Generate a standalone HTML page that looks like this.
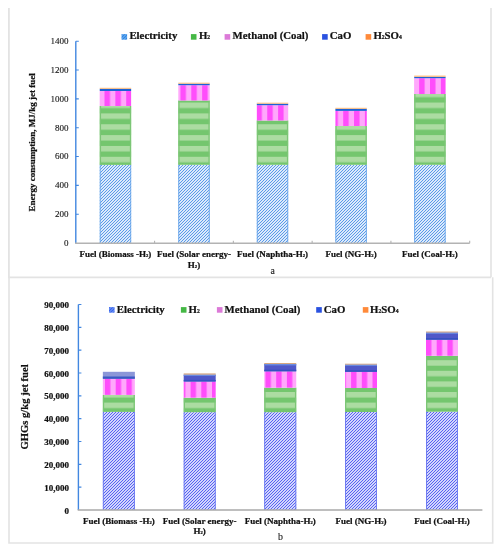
<!DOCTYPE html>
<html><head><meta charset="utf-8"><title>Energy consumption and GHG emissions</title>
<style>
html,body{margin:0;padding:0;background:#fff;}
body{width:501px;height:550px;overflow:hidden;}
svg{display:block;will-change:transform;}
text{font-family:"Liberation Serif", serif;fill:#111;}
.b{font-weight:bold;stroke:#111;stroke-width:0.22px;}
</style></head><body>
<svg width="501" height="550" viewBox="0 0 501 550">
<defs>
<pattern id="hT" patternUnits="userSpaceOnUse" width="3" height="3"><rect width="3" height="3" fill="#dceafb"/><path d="M-1,1 L1,-1 M0,3 L3,0 M2,4 L4,2" stroke="#5a9ae8" stroke-width="1.0" stroke-linecap="square"/></pattern><pattern id="hB" patternUnits="userSpaceOnUse" width="3" height="3"><rect width="3" height="3" fill="#d2d6fc"/><path d="M-1,1 L1,-1 M0,3 L3,0 M2,4 L4,2" stroke="#5862f2" stroke-width="1.0" stroke-linecap="square"/></pattern><pattern id="gT" patternUnits="userSpaceOnUse" width="20" height="10.85" y="4.90"><rect width="20" height="10.85" fill="#74c66e"/><rect y="0" width="20" height="5.5" fill="#acdca2"/></pattern><pattern id="gB" patternUnits="userSpaceOnUse" width="20" height="10.6" y="10.40"><rect width="20" height="10.6" fill="#74c66e"/><rect y="0" width="20" height="5.5" fill="#acdca2"/></pattern><pattern id="pT" patternUnits="userSpaceOnUse" width="10.85" height="20" x="6.85"><rect width="10.85" height="20" fill="#ffa8fb"/><rect x="0" width="5.5" height="20" fill="#ff4dfb"/></pattern><pattern id="pB" patternUnits="userSpaceOnUse" width="10.7" height="20" x="8.70"><rect width="10.7" height="20" fill="#ffa8fb"/><rect x="0" width="5.4" height="20" fill="#ff4dfb"/></pattern><pattern id="lgE1" patternUnits="userSpaceOnUse" width="3" height="3"><rect width="3" height="3" fill="#7cb8f0"/><path d="M-1,1 L1,-1 M0,3 L3,0 M2,4 L4,2" stroke="#2f86e4" stroke-width="1.3"/></pattern><pattern id="lgE2" patternUnits="userSpaceOnUse" width="3" height="3"><rect width="3" height="3" fill="#78a8f4"/><path d="M-1,1 L1,-1 M0,3 L3,0 M2,4 L4,2" stroke="#3c62ee" stroke-width="1.3"/></pattern></defs>
<g fill="none" stroke="#e3e3e3"><path d="M8.9,8 V277.3 H491" stroke-width="1.8"/><path d="M491,8 V277.3" stroke-width="1.6"/><path d="M9,277.3 V543 H492.7 V277.3" stroke-width="1.6"/></g><rect x="99.75" y="164.90" width="31.40" height="78.20" fill="url(#hT)"/><rect x="99.75" y="106.00" width="31.40" height="58.90" fill="url(#gT)"/><rect x="99.75" y="106.00" width="1.30" height="58.90" fill="#7cc676"/><rect x="129.85" y="106.00" width="1.30" height="58.90" fill="#7cc676"/><rect x="99.75" y="164.90" width="0.90" height="78.20" fill="#6aa6ea"/><rect x="130.25" y="164.90" width="0.90" height="78.20" fill="#6aa6ea"/><rect x="99.75" y="91.00" width="31.40" height="15.00" fill="url(#pT)"/><rect x="99.75" y="88.80" width="31.40" height="2.20" fill="#1c62d6"/><rect x="99.75" y="87.80" width="31.40" height="1.00" fill="#ffbb77"/><rect x="178.30" y="164.80" width="31.40" height="78.30" fill="url(#hT)"/><rect x="178.30" y="100.50" width="31.40" height="64.30" fill="url(#gT)"/><rect x="178.30" y="100.50" width="1.30" height="64.30" fill="#7cc676"/><rect x="208.40" y="100.50" width="1.30" height="64.30" fill="#7cc676"/><rect x="178.30" y="164.80" width="0.90" height="78.30" fill="#6aa6ea"/><rect x="208.80" y="164.80" width="0.90" height="78.30" fill="#6aa6ea"/><rect x="178.30" y="85.20" width="31.40" height="15.30" fill="url(#pT)"/><rect x="178.30" y="83.70" width="31.40" height="1.50" fill="#1c62d6"/><rect x="178.30" y="82.70" width="31.40" height="1.00" fill="#ffbb77"/><rect x="256.80" y="164.80" width="31.40" height="78.30" fill="url(#hT)"/><rect x="256.80" y="120.50" width="31.40" height="44.30" fill="url(#gT)"/><rect x="256.80" y="120.50" width="1.30" height="44.30" fill="#7cc676"/><rect x="286.90" y="120.50" width="1.30" height="44.30" fill="#7cc676"/><rect x="256.80" y="164.80" width="0.90" height="78.30" fill="#6aa6ea"/><rect x="287.30" y="164.80" width="0.90" height="78.30" fill="#6aa6ea"/><rect x="256.80" y="105.20" width="31.40" height="15.30" fill="url(#pT)"/><rect x="256.80" y="103.70" width="31.40" height="1.50" fill="#1c62d6"/><rect x="256.80" y="102.70" width="31.40" height="1.00" fill="#ffbb77"/><rect x="335.40" y="164.80" width="31.40" height="78.30" fill="url(#hT)"/><rect x="335.40" y="126.00" width="31.40" height="38.80" fill="url(#gT)"/><rect x="335.40" y="126.00" width="1.30" height="38.80" fill="#7cc676"/><rect x="365.50" y="126.00" width="1.30" height="38.80" fill="#7cc676"/><rect x="335.40" y="164.80" width="0.90" height="78.30" fill="#6aa6ea"/><rect x="365.90" y="164.80" width="0.90" height="78.30" fill="#6aa6ea"/><rect x="335.40" y="110.90" width="31.40" height="15.10" fill="url(#pT)"/><rect x="335.40" y="108.80" width="31.40" height="2.10" fill="#1c62d6"/><rect x="335.40" y="107.80" width="31.40" height="1.00" fill="#ffbb77"/><rect x="414.20" y="164.80" width="31.40" height="78.30" fill="url(#hT)"/><rect x="414.20" y="94.00" width="31.40" height="70.80" fill="url(#gT)"/><rect x="414.20" y="94.00" width="1.30" height="70.80" fill="#7cc676"/><rect x="444.30" y="94.00" width="1.30" height="70.80" fill="#7cc676"/><rect x="414.20" y="164.80" width="0.90" height="78.30" fill="#6aa6ea"/><rect x="444.70" y="164.80" width="0.90" height="78.30" fill="#6aa6ea"/><rect x="414.20" y="78.20" width="31.40" height="15.80" fill="url(#pT)"/><rect x="414.20" y="76.80" width="31.40" height="1.40" fill="#1c62d6"/><rect x="414.20" y="75.60" width="31.40" height="1.20" fill="#ffbb77"/><path d="M75.8,41.2 V243.3" stroke="#4287e0" stroke-width="1.4" fill="none"/><path d="M75.8,41.20 h3 M75.8,70.04 h3 M75.8,98.89 h3 M75.8,127.73 h3 M75.8,156.57 h3 M75.8,185.41 h3 M75.8,214.26 h3 " stroke="#4287e0" stroke-width="1.1" fill="none"/><path d="M75.1,243.3 H469.7" stroke="#b3b3b3" stroke-width="1.4" fill="none"/><path d="M154.58,243.3 v-2.6 M233.36,243.3 v-2.6 M312.14,243.3 v-2.6 M390.92,243.3 v-2.6 M469.70,243.3 v-2.6 " stroke="#b3b3b3" stroke-width="1.1" fill="none"/><text x="68.5" y="44.00" font-size="9.05" text-anchor="end" stroke="#222" stroke-width="0.12">1400</text><text x="68.5" y="72.84" font-size="9.05" text-anchor="end" stroke="#222" stroke-width="0.12">1200</text><text x="68.5" y="101.69" font-size="9.05" text-anchor="end" stroke="#222" stroke-width="0.12">1000</text><text x="68.5" y="130.53" font-size="9.05" text-anchor="end" stroke="#222" stroke-width="0.12">800</text><text x="68.5" y="159.37" font-size="9.05" text-anchor="end" stroke="#222" stroke-width="0.12">600</text><text x="68.5" y="188.21" font-size="9.05" text-anchor="end" stroke="#222" stroke-width="0.12">400</text><text x="68.5" y="217.06" font-size="9.05" text-anchor="end" stroke="#222" stroke-width="0.12">200</text><text x="68.5" y="245.90" font-size="9.05" text-anchor="end" stroke="#222" stroke-width="0.12">0</text><text transform="translate(35.3,142.3) rotate(-90)" font-size="9" class="b" text-anchor="middle">Energy consumption, MJ/kg jet fuel</text><rect x="121.50" y="34.10" width="5.60" height="5.60" fill="url(#lgE1)"/><text x="129.4" y="39.2" font-size="10.8" class="b">Electricity</text><rect x="190.90" y="34.10" width="5.60" height="5.60" fill="#45b845"/><text x="198.9" y="39.2" font-size="10.8" class="b">H<tspan font-size="0.52em" baseline-shift="-0.4">2</tspan></text><rect x="224.60" y="34.10" width="5.60" height="5.60" fill="#dc7ad8"/><text x="232.6" y="39.2" font-size="10.8" class="b">Methanol (Coal)</text><rect x="322.10" y="34.10" width="5.60" height="5.60" fill="#2a52e0"/><text x="329.8" y="39.2" font-size="10.8" class="b">CaO</text><rect x="365.60" y="34.10" width="5.60" height="5.60" fill="#ff8a3a"/><text x="373.4" y="39.2" font-size="10.8" class="b">H<tspan font-size="0.52em" baseline-shift="-0.4">2</tspan>SO<tspan font-size="0.52em" baseline-shift="-0.4">4</tspan></text><text x="115.45" y="257.3" font-size="9" class="b" text-anchor="middle">Fuel (Biomass -H<tspan font-size="0.52em" baseline-shift="-0.4">2</tspan>)</text><text x="194.00" y="257.3" font-size="9" class="b" text-anchor="middle">Fuel (Solar energy-</text><text x="272.50" y="257.3" font-size="9" class="b" text-anchor="middle">Fuel (Naphtha-H<tspan font-size="0.52em" baseline-shift="-0.4">2</tspan>)</text><text x="351.10" y="257.3" font-size="9" class="b" text-anchor="middle">Fuel (NG-H<tspan font-size="0.52em" baseline-shift="-0.4">2</tspan>)</text><text x="429.90" y="257.3" font-size="9" class="b" text-anchor="middle">Fuel (Coal-H<tspan font-size="0.52em" baseline-shift="-0.4">2</tspan>)</text><text x="194.00" y="267.6" font-size="9" class="b" text-anchor="middle">H<tspan font-size="0.52em" baseline-shift="-0.4">2</tspan>)</text><text x="272.7" y="274.0" font-size="9.8" text-anchor="middle" stroke="#222" stroke-width="0.1">a</text><rect x="102.85" y="411.90" width="32.00" height="98.10" fill="url(#hB)"/><rect x="102.85" y="394.90" width="32.00" height="17.00" fill="url(#gB)"/><rect x="102.85" y="394.90" width="1.30" height="17.00" fill="#7cc676"/><rect x="133.55" y="394.90" width="1.30" height="17.00" fill="#7cc676"/><rect x="102.85" y="411.90" width="0.90" height="98.10" fill="#6a78f0"/><rect x="133.95" y="411.90" width="0.90" height="98.10" fill="#6a78f0"/><rect x="102.85" y="378.80" width="32.00" height="16.10" fill="url(#pB)"/><rect x="102.85" y="371.80" width="32.00" height="7.00" fill="#8b96d8"/><rect x="102.85" y="376.50" width="32.00" height="2.30" fill="#3b58c4"/><rect x="183.70" y="412.20" width="32.00" height="97.80" fill="url(#hB)"/><rect x="183.70" y="397.70" width="32.00" height="14.50" fill="url(#gB)"/><rect x="183.70" y="397.70" width="1.30" height="14.50" fill="#7cc676"/><rect x="214.40" y="397.70" width="1.30" height="14.50" fill="#7cc676"/><rect x="183.70" y="412.20" width="0.90" height="97.80" fill="#6a78f0"/><rect x="214.80" y="412.20" width="0.90" height="97.80" fill="#6a78f0"/><rect x="183.70" y="381.50" width="32.00" height="16.20" fill="url(#pB)"/><rect x="183.70" y="374.60" width="32.00" height="6.90" fill="#5058c8"/><rect x="183.70" y="374.60" width="32.00" height="1.40" fill="#6a8ae0"/><rect x="183.70" y="379.90" width="32.00" height="1.60" fill="#3552c0"/><rect x="183.70" y="373.40" width="32.00" height="1.20" fill="#d4a680"/><rect x="264.25" y="412.20" width="32.00" height="97.80" fill="url(#hB)"/><rect x="264.25" y="387.70" width="32.00" height="24.50" fill="url(#gB)"/><rect x="264.25" y="387.70" width="1.30" height="24.50" fill="#7cc676"/><rect x="294.95" y="387.70" width="1.30" height="24.50" fill="#7cc676"/><rect x="264.25" y="412.20" width="0.90" height="97.80" fill="#6a78f0"/><rect x="295.35" y="412.20" width="0.90" height="97.80" fill="#6a78f0"/><rect x="264.25" y="371.30" width="32.00" height="16.40" fill="url(#pB)"/><rect x="264.25" y="364.00" width="32.00" height="7.30" fill="#5058c8"/><rect x="264.25" y="364.00" width="32.00" height="1.40" fill="#6a8ae0"/><rect x="264.25" y="369.70" width="32.00" height="1.60" fill="#3552c0"/><rect x="264.25" y="363.00" width="32.00" height="1.00" fill="#d4a680"/><rect x="345.00" y="412.00" width="32.00" height="98.00" fill="url(#hB)"/><rect x="345.00" y="388.00" width="32.00" height="24.00" fill="url(#gB)"/><rect x="345.00" y="388.00" width="1.30" height="24.00" fill="#7cc676"/><rect x="375.70" y="388.00" width="1.30" height="24.00" fill="#7cc676"/><rect x="345.00" y="412.00" width="0.90" height="98.00" fill="#6a78f0"/><rect x="376.10" y="412.00" width="0.90" height="98.00" fill="#6a78f0"/><rect x="345.00" y="371.80" width="32.00" height="16.20" fill="url(#pB)"/><rect x="345.00" y="364.60" width="32.00" height="7.20" fill="#5058c8"/><rect x="345.00" y="364.60" width="32.00" height="1.40" fill="#6a8ae0"/><rect x="345.00" y="370.20" width="32.00" height="1.60" fill="#3552c0"/><rect x="345.00" y="363.70" width="32.00" height="0.90" fill="#d4a680"/><rect x="426.00" y="411.70" width="32.00" height="98.30" fill="url(#hB)"/><rect x="426.00" y="355.80" width="32.00" height="55.90" fill="url(#gB)"/><rect x="426.00" y="355.80" width="1.30" height="55.90" fill="#7cc676"/><rect x="456.70" y="355.80" width="1.30" height="55.90" fill="#7cc676"/><rect x="426.00" y="411.70" width="0.90" height="98.30" fill="#6a78f0"/><rect x="457.10" y="411.70" width="0.90" height="98.30" fill="#6a78f0"/><rect x="426.00" y="339.70" width="32.00" height="16.10" fill="url(#pB)"/><rect x="426.00" y="332.50" width="32.00" height="7.20" fill="#5058c8"/><rect x="426.00" y="332.50" width="32.00" height="1.40" fill="#6a8ae0"/><rect x="426.00" y="338.10" width="32.00" height="1.60" fill="#3552c0"/><rect x="426.00" y="331.50" width="32.00" height="1.00" fill="#d4a680"/><path d="M78.4,304.5 V510.0" stroke="#4287e0" stroke-width="1.4" fill="none"/><path d="M78.4,304.50 h3 M78.4,327.33 h3 M78.4,350.17 h3 M78.4,373.00 h3 M78.4,395.83 h3 M78.4,418.67 h3 M78.4,441.50 h3 M78.4,464.33 h3 M78.4,487.17 h3 " stroke="#4287e0" stroke-width="1.1" fill="none"/><path d="M77.7,510.0 H482.4" stroke="#a8a8a8" stroke-width="1.4" fill="none"/><text x="68.9" y="308.10" font-size="9" class="b" text-anchor="end">90,000</text><text x="68.9" y="330.93" font-size="9" class="b" text-anchor="end">80,000</text><text x="68.9" y="353.77" font-size="9" class="b" text-anchor="end">70,000</text><text x="68.9" y="376.60" font-size="9" class="b" text-anchor="end">60,000</text><text x="68.9" y="399.43" font-size="9" class="b" text-anchor="end">50,000</text><text x="68.9" y="422.27" font-size="9" class="b" text-anchor="end">40,000</text><text x="68.9" y="445.10" font-size="9" class="b" text-anchor="end">30,000</text><text x="68.9" y="467.93" font-size="9" class="b" text-anchor="end">20,000</text><text x="68.9" y="490.77" font-size="9" class="b" text-anchor="end">10,000</text><text x="68.9" y="513.60" font-size="9" class="b" text-anchor="end">0</text><text transform="translate(28.0,406.9) rotate(-90)" font-size="10.6" class="b" text-anchor="middle">GHGs g/kg jet fuel</text><rect x="109.00" y="307.10" width="5.60" height="5.60" fill="url(#lgE2)"/><text x="116.8" y="313.2" font-size="10.8" class="b">Electricity</text><rect x="180.90" y="307.10" width="5.60" height="5.60" fill="#45b845"/><text x="188.6" y="313.2" font-size="10.8" class="b">H<tspan font-size="0.52em" baseline-shift="-0.4">2</tspan></text><rect x="216.90" y="307.10" width="5.60" height="5.60" fill="#dc7ad8"/><text x="224.6" y="313.2" font-size="10.8" class="b">Methanol (Coal)</text><rect x="316.20" y="307.10" width="5.60" height="5.60" fill="#2a52e0"/><text x="323.8" y="313.2" font-size="10.8" class="b">CaO</text><rect x="362.80" y="307.10" width="5.60" height="5.60" fill="#ff8a3a"/><text x="370.1" y="313.2" font-size="10.8" class="b">H<tspan font-size="0.52em" baseline-shift="-0.4">2</tspan>SO<tspan font-size="0.52em" baseline-shift="-0.4">4</tspan></text><text x="118.85" y="523.8" font-size="9" class="b" text-anchor="middle">Fuel (Biomass -H<tspan font-size="0.52em" baseline-shift="-0.4">2</tspan>)</text><text x="199.70" y="523.8" font-size="9" class="b" text-anchor="middle">Fuel (Solar energy-</text><text x="280.25" y="523.8" font-size="9" class="b" text-anchor="middle">Fuel (Naphtha-H<tspan font-size="0.52em" baseline-shift="-0.4">2</tspan>)</text><text x="361.00" y="523.8" font-size="9" class="b" text-anchor="middle">Fuel (NG-H<tspan font-size="0.52em" baseline-shift="-0.4">2</tspan>)</text><text x="442.00" y="523.8" font-size="9" class="b" text-anchor="middle">Fuel (Coal-H<tspan font-size="0.52em" baseline-shift="-0.4">2</tspan>)</text><text x="199.70" y="533.8" font-size="9" class="b" text-anchor="middle">H<tspan font-size="0.52em" baseline-shift="-0.4">2</tspan>)</text><text x="280.5" y="539.8" font-size="9.8" text-anchor="middle" stroke="#222" stroke-width="0.1">b</text></svg>
</body></html>
